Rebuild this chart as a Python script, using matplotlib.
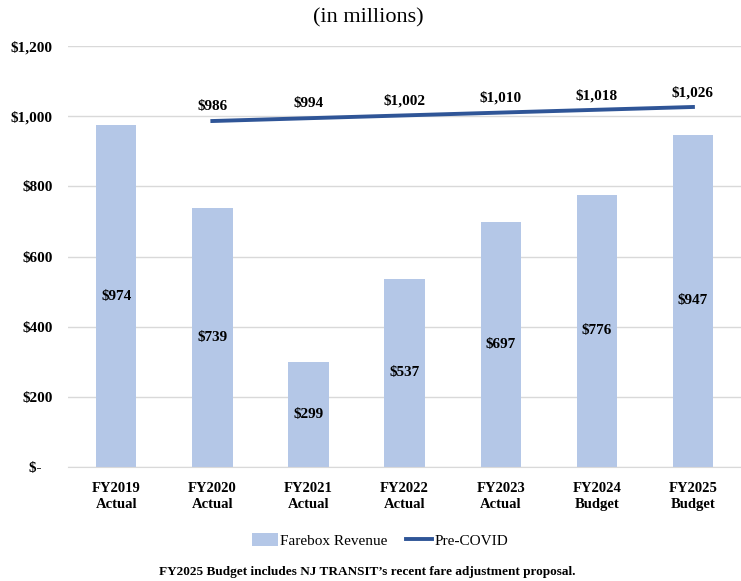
import numpy as np
import matplotlib
matplotlib.use("Agg")
import matplotlib.pyplot as plt

categories = ["FY2019\nActual", "FY2020\nActual", "FY2021\nActual", "FY2022\nActual",
              "FY2023\nActual", "FY2024\nBudget", "FY2025\nBudget"]
farebox = [974, 739, 299, 537, 697, 776, 947]
pre_covid = [986, 994, 1002, 1010, 1018, 1026]  # FY2020..FY2025
yticks = [0, 200, 400, 600, 800, 1000, 1200]
ytick_labels = ["$-   ", "$200", "$400", "$600", "$800", "$1,000", "$1,200"]

plt.rcParams['font.family'] = ['Liberation Serif', 'DejaVu Serif']

fig = plt.figure(figsize=(7.41, 5.81), dpi=100)
ax = fig.add_axes([0.092, 0.196, 0.908, 0.725])

x = np.arange(len(categories))
bars = ax.bar(x, farebox, width=0.42, color='#B4C7E7', label='Farebox Revenue', zorder=2)
for xi, v in zip(x, farebox):
    ax.text(xi, v / 2, "${:,}".format(v), ha='center', va='center', fontsize=11,
            fontweight='bold', zorder=3)

xl = x[1:]
line, = ax.plot(xl, pre_covid, color='#2F5597', lw=2.8, label='Pre-COVID', zorder=3)
for xi, v in zip(xl, pre_covid):
    ax.text(xi, v + 22, "${:,}".format(v), ha='center', va='bottom', fontsize=11,
            fontweight='bold')

ax.set_xlim(-0.5, 6.5)
ax.set_ylim(0, 1200)
ax.set_yticks(yticks)
ax.set_yticklabels(ytick_labels, fontsize=11, fontweight='bold')
ax.set_xticks(x)
ax.set_xticklabels(categories, fontsize=10.5, fontweight='bold', linespacing=1.25)
ax.tick_params(length=0)
ax.tick_params(axis='x', pad=11)
ax.tick_params(axis='y', pad=11)
ax.grid(axis='y', color='#D9D9D9', lw=1, zorder=0)
for s in ['top', 'right', 'left']:
    ax.spines[s].set_visible(False)
ax.spines['bottom'].set_color('#D9D9D9')

fig.text(0.497, 0.97, "(in millions)", ha='center', va='center', fontsize=16)
fig.legend([bars, line], ['Farebox Revenue', 'Pre-COVID'], loc='center',
           bbox_to_anchor=(0.513, 0.07), ncol=2, frameon=False,
           fontsize=11, handlelength=1.7, handleheight=1.0, handletextpad=0.15,
           columnspacing=1.2)
fig.text(0.496, 0.006, "FY2025 Budget includes NJ TRANSIT\u2019s recent fare adjustment proposal.",
         ha='center', va='bottom', fontsize=9.5, fontweight='bold')

fig.savefig("out.png", dpi=100)
